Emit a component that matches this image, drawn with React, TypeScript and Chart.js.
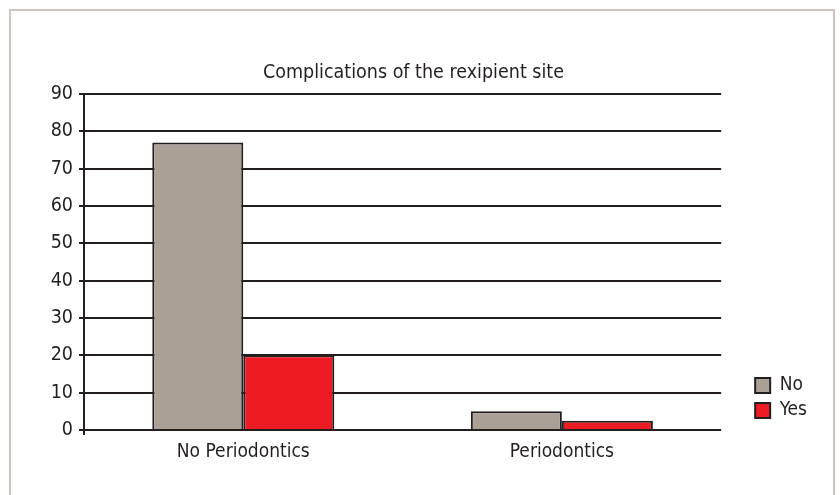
import React, { useEffect, useRef } from "react";
import { Chart, registerables } from "chart.js";

Chart.register(...registerables);

const categories = ["No Periodontics", "Periodontics"];
const seriesNo = [77, 5];
const seriesYes = [20, 2.5];
const seriesLabels = ["No", "Yes"];
const titleText = "Complications of the rexipient site";

const FONT = '"Liberation Sans Narrow", "DejaVu Sans Condensed", "Liberation Sans", Arial, sans-serif';
const INK = "#231f20";

const legendNudge = {
  id: "legendNudge",
  afterLayout(chart: any) {
    if (chart.legend) {
      chart.legend.bottom -= 4;
      chart.legend.top -= 4;
    }
  },
};

export default function App() {
  const ref = useRef<HTMLCanvasElement | null>(null);

  useEffect(() => {
    if (!ref.current) return;
    const chart = new Chart(ref.current, {
      type: "bar",
      data: {
        labels: categories,
        datasets: [
          {
            label: seriesLabels[0],
            data: seriesNo,
            backgroundColor: "#aba095",
            borderColor: INK,
            borderWidth: 2,
            borderSkipped: "bottom",
          },
          {
            label: seriesLabels[1],
            data: seriesYes,
            backgroundColor: "#ed1c24",
            borderColor: INK,
            borderWidth: 2,
            borderSkipped: "bottom",
          },
        ],
      },
      plugins: [legendNudge],
      options: {
        responsive: false,
        animation: false,
        events: [],
        layout: { padding: { left: 10, top: 61, right: 23, bottom: 25 } },
        datasets: { bar: { categoryPercentage: 0.5714, barPercentage: 1 } },
        plugins: {
          tooltip: { enabled: false },
          title: {
            display: true,
            text: titleText,
            color: INK,
            font: { family: FONT, size: 19.5, weight: "normal", lineHeight: 1.2 },
            padding: { top: 0, bottom: 9.6 },
          },
          legend: {
            display: true,
            position: "right",
            align: "end",
            fullSize: false,
            labels: {
              boxWidth: 15,
              boxHeight: 15,
              padding: 6,
              color: INK,
              font: { family: FONT, size: 19 },
            },
          },
        },
        scales: {
          x: {
            type: "category",
            offset: true,
            grid: {
              display: true,
              drawOnChartArea: false,
              drawTicks: true,
              tickLength: 5,
              lineWidth: 2,
              color: (c: any) => (c.index === 0 ? INK : "rgba(0,0,0,0)"),
            },
            border: { display: false },
            ticks: {
              color: INK,
              padding: 6,
              font: { family: FONT, size: 19 },
              maxRotation: 0,
            },
            afterFit: (s: any) => {
              s.height = 40;
            },
          },
          y: {
            type: "linear",
            min: 0,
            max: 90,
            position: "left",
            grid: {
              color: INK,
              lineWidth: 2,
              tickLength: 5,
              drawTicks: true,
            },
            border: { display: true, color: INK, width: 2 },
            ticks: {
              stepSize: 10,
              color: INK,
              padding: 6,
              font: { family: FONT, size: 19.5 },
            },
            afterFit: (s: any) => {
              s.width = 74;
            },
          },
          spacer: {
            type: "linear",
            position: "right",
            display: true,
            grid: { display: false, drawTicks: false },
            border: { display: false },
            ticks: { display: false },
            afterFit: (s: any) => {
              s.width = 28;
            },
          },
        },
      },
    });
    return () => chart.destroy();
  }, []);

  return (
    <div
      style={{
        position: "fixed",
        left: 0,
        top: 0,
        width: 840,
        height: 495,
        background: "#ffffff",
        overflow: "hidden",
      }}
    >
      <div
        style={{
          position: "absolute",
          left: 9,
          top: 9,
          width: 826,
          height: 500,
          borderLeft: "2px solid #cdc5bd",
          borderTop: "2px solid #cdc5bd",
          borderRight: "2px solid #cdc5bd",
          boxSizing: "border-box",
        }}
      />
      <canvas
        ref={ref}
        width={840}
        height={495}
        style={{ position: "absolute", left: 0, top: 0, display: "block" }}
      />
    </div>
  );
}
